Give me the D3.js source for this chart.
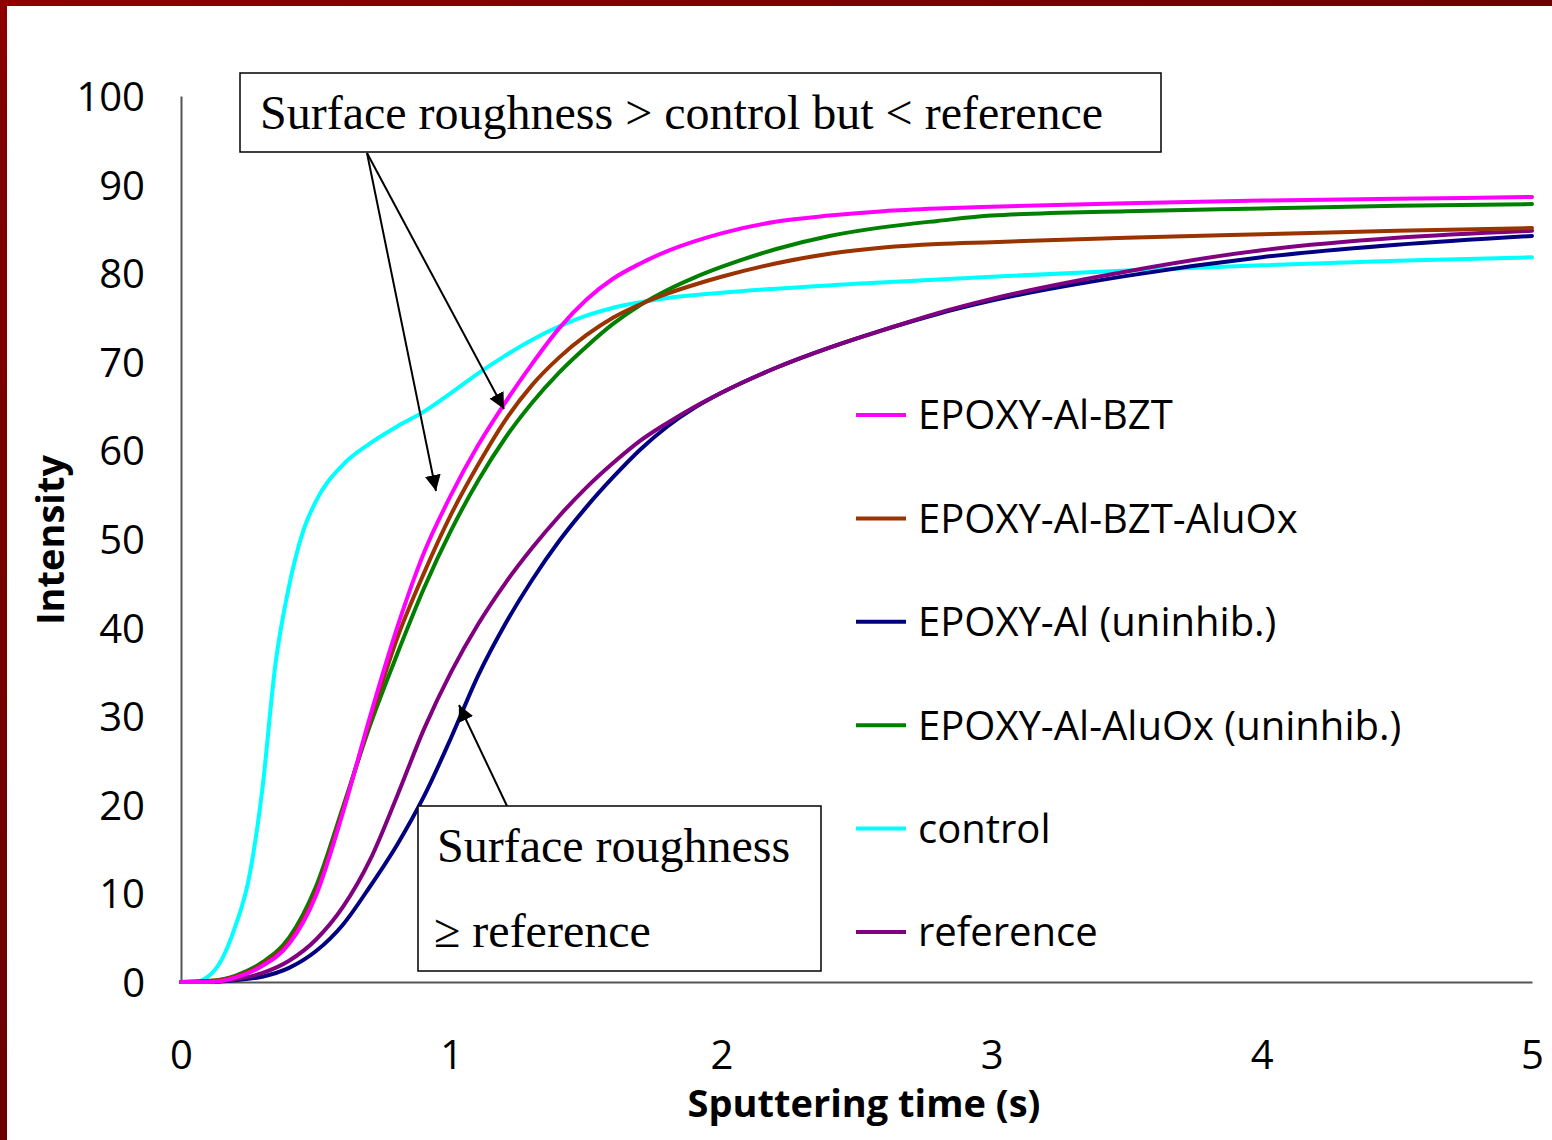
<!DOCTYPE html>
<html lang="en">
<head>
<meta charset="utf-8">
<title>Intensity vs sputtering time</title>
<style>
  body { margin: 0; background: #fff; }
  .tick-label { font-family: "Open Sans", Lato, sans-serif; font-size: 40px; fill: #000; }
  .axis-title { font-family: "Open Sans", Lato, sans-serif; font-size: 38px; font-weight: bold; fill: #000; text-anchor: middle; }
  .legend-text { font-family: "Open Sans", Lato, sans-serif; font-size: 40px; fill: #000; }
  .note { font-family: "Liberation Serif", "DejaVu Serif", serif; font-size: 48px; fill: #000; }
  .series { fill: none; stroke-width: 4; stroke-linejoin: round; stroke-linecap: round; }
</style>
</head>
<body>
<div id="chart"></div>
<script src="https://cdn.jsdelivr.net/npm/d3@7"></script>
<script>

// values
var tBZT   = [0,0.1,0.2,0.3,0.4,0.5,0.6,0.7,0.8,0.9,1.0,1.1,1.2,1.3,1.4,1.5,1.6,1.7,1.8,1.9,2.0,2.2,2.4,2.6,2.8,3.0,3.5,4.0,4.5,5.0];
var iBZT   = [0,0,0.5,1.8,4.3,9.8,19.2,30,40,48.5,55,60.6,65.4,69.8,73.8,77,79.4,81.1,82.5,83.6,84.5,85.8,86.5,87,87.3,87.5,87.9,88.2,88.4,88.6];
var iBZTAl = [0,0.1,0.6,2,4.6,10.2,19.5,29.5,38.8,46.2,52.8,58.4,63.4,67.4,70.5,73,75,76.5,77.7,78.7,79.6,81.1,82.2,82.9,83.3,83.5,84,84.4,84.8,85.1];
var iAluOx = [0,0.1,0.7,2.2,5,10.8,19.8,29,37,44.5,51,56.6,61.4,65.4,68.8,71.7,74.3,76.4,78.1,79.5,80.7,82.7,84.2,85.2,85.9,86.5,87,87.3,87.6,87.8];

var tRef   = [0,0.1,0.2,0.3,0.4,0.5,0.6,0.7,0.8,0.9,1.0,1.1,1.2,1.3,1.4,1.5,1.6,1.7,1.8,1.9,2.0,2.2,2.4,2.6,2.8,3.0,3.5,4.0,4.5,5.0];
var iRef   = [0,0,0.3,1.0,2.4,4.8,8.5,13.8,21,28.6,35,40.4,45,49,52.6,55.8,58.6,61.1,63.1,64.9,66.5,69.3,71.6,73.6,75.5,77.1,80.2,82.6,84,84.8];
var iAl    = [0,0,0.2,0.6,1.6,3.5,6.5,10.8,15.5,21,27.6,34.6,40.4,45.4,49.8,53.6,57,60.1,62.7,64.8,66.5,69.3,71.6,73.6,75.4,76.9,79.7,81.8,83.2,84.2];

var tCtrl  = [0,0.05,0.1,0.15,0.2,0.25,0.3,0.35,0.4,0.45,0.5,0.6,0.7,0.8,0.9,1.0,1.1,1.2,1.3,1.4,1.5,1.6,1.8,2.0,2.5,3.0,3.5,4.0,4.5,5.0];
var iCtrl  = [0,0,0.6,2.5,6.2,11.5,21.5,36,44.7,50.7,54.3,58.4,60.8,62.7,64.4,66.5,68.7,70.7,72.5,74,75.2,76.1,77.2,77.8,78.8,79.6,80.3,80.9,81.4,81.8];

var seriesNames  = ["EPOXY-Al-BZT", "EPOXY-Al-BZT-AluOx", "EPOXY-Al (uninhib.)", "EPOXY-Al-AluOx (uninhib.)", "control", "reference"];
var seriesColors = ["#ff00ff", "#993300", "#000080", "#008000", "#00ffff", "#800080"];
var seriesT      = [tBZT, tBZT, tRef, tBZT, tCtrl, tRef];
var seriesI      = [iBZT, iBZTAl, iAl, iAluOx, iCtrl, iRef];
var drawOrder    = [4, 2, 5, 3, 1, 0];

var xTicks = [0, 1, 2, 3, 4, 5];
var yTicks = [0, 10, 20, 30, 40, 50, 60, 70, 80, 90, 100];

var noteTop    = "Surface roughness > control but < reference";
var noteBottom = ["Surface roughness", "\u2265 reference"];

var W = 1552, H = 1140;
var margin = {top: 96, right: 20, bottom: 158, left: 181},
    width = 1532 - margin.left,
    height = 982 - margin.top;

var svg = d3.select("#chart").append("svg")
    .attr("width", W).attr("height", H);

// dark red frame strips
var defs = svg.append("defs");
var g1 = defs.append("linearGradient").attr("id", "topBar").attr("x1", 0).attr("x2", 1);
g1.append("stop").attr("offset", 0).attr("stop-color", "#8f0000");
g1.append("stop").attr("offset", 1).attr("stop-color", "#6e0000");
var g2 = defs.append("linearGradient").attr("id", "leftBar").attr("x1", 0).attr("x2", 0).attr("y1", 0).attr("y2", 1);
g2.append("stop").attr("offset", 0).attr("stop-color", "#8f0000");
g2.append("stop").attr("offset", 0.09).attr("stop-color", "#800000");
g2.append("stop").attr("offset", 1).attr("stop-color", "#6a0000");
svg.append("rect").attr("x", 0).attr("y", 0).attr("width", W).attr("height", 6).attr("fill", "url(#topBar)");
svg.append("rect").attr("x", 0).attr("y", 0).attr("width", 7).attr("height", H).attr("fill", "url(#leftBar)");

var plt = svg.append("g").attr("transform", "translate(" + margin.left + "," + margin.top + ")");

var xScale = d3.scaleLinear().domain([0, 5]).range([0, width]);
var yScale = d3.scaleLinear().domain([0, 100]).range([height, 0]);

// axes: plain lines, no tick marks
var xAxis = d3.axisBottom(xScale).tickValues(xTicks).tickSize(0).tickFormat(d3.format("d"));
var yAxis = d3.axisLeft(yScale).tickValues(yTicks).tickSize(0).tickPadding(36).tickFormat(d3.format("d"));

var gx = plt.append("g").attr("transform", "translate(0," + height + ")").call(xAxis);
var gy = plt.append("g").call(yAxis);
[gx, gy].forEach(function(g){
  g.select(".domain").attr("stroke", "#555").attr("stroke-width", 2);
  g.selectAll("text").attr("class", "tick-label").attr("font-size", null).attr("font-family", null);
});
gx.selectAll("text").attr("dy", 0).attr("y", 87);
gy.selectAll("text").attr("dy", "0.36em");

svg.append("text").attr("class", "axis-title")
   .attr("x", 864).attr("y", 1117)
   .text("Sputtering time (s)");

svg.append("text").attr("class", "axis-title")
   .attr("transform", "translate(64,540) rotate(-90)")
   .text("Intensity");

// curves
var line = d3.line()
    .x(function(d){ return xScale(d[0]); })
    .y(function(d){ return yScale(d[1]); })
    .curve(d3.curveMonotoneX);

drawOrder.forEach(function(k){
  var pts = seriesT[k].map(function(t, i){ return [t, seriesI[k][i]]; });
  plt.append("path").datum(pts)
     .attr("class", "series")
     .attr("stroke", seriesColors[k])
     .attr("d", line);
});

// legend
var legend = svg.append("g").attr("transform", "translate(856,415)");
seriesNames.forEach(function(name, i){
  var g = legend.append("g").attr("transform", "translate(0," + (i * 103.4) + ")");
  g.append("line").attr("x1", 0).attr("x2", 50).attr("y1", 0).attr("y2", 0)
   .attr("stroke", seriesColors[i]).attr("stroke-width", 4);
  g.append("text").attr("class", "legend-text").attr("x", 62).attr("dy", "0.36em").text(name);
});

// annotations
defs.append("marker").attr("id", "arrow")
    .attr("viewBox", "0 0 10 10").attr("refX", 10).attr("refY", 5)
    .attr("markerWidth", 16).attr("markerHeight", 16).attr("markerUnits", "userSpaceOnUse")
    .attr("orient", "auto")
  .append("path").attr("d", "M0,0 L10,5 L0,10 z").attr("fill", "#000");

svg.append("rect").attr("x", 240).attr("y", 73).attr("width", 921).attr("height", 79)
   .attr("fill", "#fff").attr("stroke", "#000").attr("stroke-width", 1.5);
svg.append("text").attr("class", "note").attr("x", 260).attr("y", 129).text(noteTop);

var arrows = [[367, 153, 436, 491], [367, 153, 504, 409], [507, 806, 459, 705]];
arrows.forEach(function(a){
  svg.append("line").attr("x1", a[0]).attr("y1", a[1]).attr("x2", a[2]).attr("y2", a[3])
     .attr("stroke", "#000").attr("stroke-width", 2).attr("marker-end", "url(#arrow)");
});

svg.append("rect").attr("x", 418).attr("y", 806).attr("width", 403).attr("height", 165)
   .attr("fill", "#fff").attr("stroke", "#000").attr("stroke-width", 1.5);
svg.append("text").attr("class", "note").attr("x", 437).attr("y", 862).text(noteBottom[0]);
svg.append("text").attr("class", "note").attr("x", 434).attr("y", 947).text(noteBottom[1]);

</script>
</body>
</html>
